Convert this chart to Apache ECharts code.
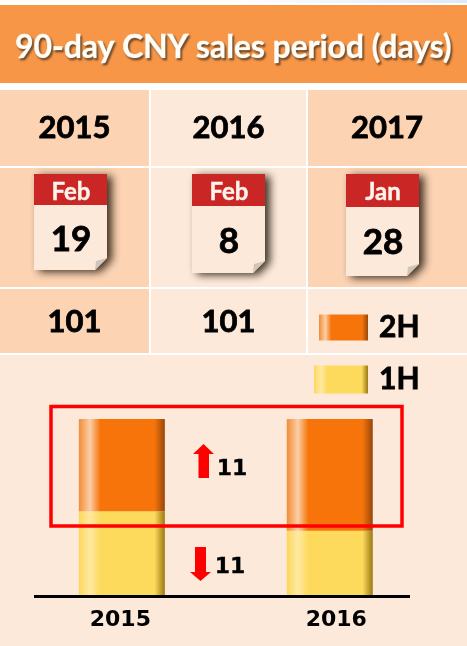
<!DOCTYPE html>
<html>
<head>
<meta charset="utf-8">
<style>
html,body{margin:0;padding:0;background:#fff}
#main{width:467px;height:646px}
</style>
<script src="https://cdn.jsdelivr.net/npm/echarts@6/dist/echarts.min.js"></script>
</head>
<body>
<div id="main"></div>
<script>
var titleText = '90-day CNY sales period (days)';
var years = ['2015', '2016', '2017'];
var months = ['Feb', 'Feb', 'Jan'];
var days = ['19', '8', '28'];
var totals = ['101', '101'];
var categories = ['2015', '2016'];
var firstHalf = [49, 38];
var secondHalf = [52, 63];
var changes = ['11', '11'];

var font = 'Lato';
var chartFont = '"DejaVu Sans"';
var darkCell = '#FCD3B3';
var lightCell = '#FDE9DA';
var colX = [0, 151, 308];
var colW = [149, 155, 159];
var colCenter = [74.5, 228.5, 387];

function barGrad(edge, light, main, dark) {
  return new echarts.graphic.LinearGradient(0, 0, 1, 0, [
    {offset: 0, color: edge},
    {offset: 0.13, color: light},
    {offset: 0.25, color: main},
    {offset: 0.88, color: main},
    {offset: 1, color: dark}
  ]);
}
var orange = barGrad('#F28C35', '#FBCFA6', '#F6740A', '#96480C');
var yellow = barGrad('#FCD75C', '#FFE9A3', '#FEDA5C', '#9A7A12');

function label(text, x, y, size, color, z, family, thick) {
  var c = color || '#000';
  return {
    type: 'text', z: z || 1, silent: true,
    style: {text: text, x: x, y: y, fill: c, stroke: c, lineWidth: thick === undefined ? 0.8 : thick,
      font: 'bold ' + size + 'px ' + (family || font), align: 'center', verticalAlign: 'middle'}
  };
}
function box(x, y, w, h, fill, z) {
  return {type: 'rect', z: z || 0, silent: true, shape: {x: x, y: y, width: w, height: h}, style: {fill: fill}};
}

var els = [];
// page + table bands
els.push(box(0, 0, 467, 646, lightCell));
els.push(box(0, 0, 467, 5, '#fff'));
els.push({type: 'rect', z: 0, silent: true, shape: {x: 230, y: 0, width: 237, height: 3},
  style: {fill: new echarts.graphic.LinearGradient(0, 0, 1, 0, [{offset: 0, color: '#fff'}, {offset: 1, color: '#DCE9F8'}])}});
els.push(box(0, 5, 467, 78, '#F89647'));
els.push(box(0, 83, 467, 7, '#fff'));
els.push(box(0, 166, 467, 2, '#fff'));
els.push(box(0, 287, 467, 2, '#fff'));
els.push(box(0, 353, 467, 2, '#fff'));
els.push(box(149, 83, 2, 270, '#fff'));
els.push(box(306, 83, 2, 270, '#fff'));
els.push(box(colX[0], 90, colW[0], 76, darkCell));
els.push(box(colX[2], 90, colW[2], 76, darkCell));
els.push(box(colX[0], 168, colW[0], 119, darkCell));
els.push(box(colX[2], 168, colW[2], 119, darkCell));
els.push(box(colX[0], 289, colW[0], 64, darkCell));

// year row and totals row
years.forEach(function (y, i) {
  els.push(label(y, colCenter[i], 128, 31));
});
totals.forEach(function (t, i) {
  els.push(label(t, colCenter[i], 322, 31));
});

// calendars
var calX = [34, 192, 346];
var calH = [96, 99, 102];
var calRed = [31, 32, 33];
var dayY = [240, 242, 243];
months.forEach(function (m, i) {
  var x = calX[i], y = 174, w = 73, h = calH[i], f = 12;
  els.push({
    type: 'polygon', z: 1, silent: true,
    shape: {points: [[x, y], [x + w, y], [x + w, y + h - f], [x + w - f, y + h], [x, y + h]]},
    style: {fill: lightCell, shadowBlur: 8, shadowOffsetX: 5, shadowOffsetY: 2, shadowColor: 'rgba(40,28,16,0.9)'}
  });
  els.push({
    type: 'polygon', z: 1, silent: true,
    shape: {points: [[x + w, y + h - f], [x + w - f, y + h], [x + w - f + 1, y + h - f + 3]]},
    style: {fill: '#CFC5B8'}
  });
  els.push(box(x, y, w, calRed[i], '#CA2626', 1));
  els.push(label(m, x + w / 2 + 0.5, 192, 24, '#FDF3EA', 2, font, 0.4));
  els.push(label(days[i], x + w / 2 + 0.5, dayY[i], 35, '#000', 2));
});

// red highlight box, arrows, change labels
els.push({type: 'rect', z: 10, silent: true, shape: {x: 51, y: 406.5, width: 351, height: 119.5},
  style: {fill: 'none', stroke: '#FF0000', lineWidth: 3.5}});
els.push({type: 'polygon', z: 10, silent: true,
  shape: {points: [[203.5, 444], [214, 454], [209, 454], [209, 478], [198.5, 478], [198.5, 454], [193, 454]]},
  style: {fill: '#FF0000'}});
els.push({type: 'polygon', z: 10, silent: true,
  shape: {points: [[200.5, 581], [211, 572], [206, 572], [206, 547], [195, 547], [195, 572], [190, 572]]},
  style: {fill: '#FF0000'}});
els.push(label(changes[0], 232, 469, 22, '#000', 10, chartFont, 0.3));
els.push(label(changes[1], 230, 567, 22, '#000', 10, chartFont, 0.3));
// baseline
els.push(box(34, 595, 376, 3, '#000', 10));

var legendText = {fontFamily: font, fontWeight: 'bold', fontSize: 30, color: '#000',
  textBorderColor: '#000', textBorderWidth: 0.8, padding: [0, 0, 0, 6]};

var myChart = echarts.init(document.getElementById('main'), null, {renderer: 'canvas'});
myChart.setOption({
  animation: false,
  backgroundColor: 'transparent',
  title: {
    text: titleText, left: 'center', top: 27, z: 5,
    textStyle: {
      fontFamily: font, fontWeight: 'bold', fontSize: 31.8, color: '#FFFDF6',
      textBorderColor: '#FFFDF6', textBorderWidth: 0.6,
      textShadowColor: 'rgba(70,50,30,0.75)', textShadowBlur: 2, textShadowOffsetX: 1.5, textShadowOffsetY: 1.5
    }
  },
  graphic: {elements: els},
  legend: [
    {data: [{name: '2H', icon: 'rect'}], left: 319, top: 312, padding: 0, itemWidth: 49, itemHeight: 26, selectedMode: false, textStyle: legendText},
    {data: [{name: '1H', icon: 'rect'}], left: 314, top: 364, padding: 0, itemWidth: 54, itemHeight: 28, selectedMode: false, textStyle: legendText}
  ],
  grid: {left: 17.9, width: 415.8, top: 419, height: 179},
  xAxis: {
    type: 'category', data: categories,
    axisLine: {show: false}, axisTick: {show: false},
    axisLabel: {
      margin: 11,
      formatter: function (v, i) { return (i === 0 ? '{a|' : '{b|') + v + '}'; },
      rich: {
        a: {fontFamily: chartFont, fontWeight: 'bold', fontSize: 22, color: '#000', padding: [0, 3, 0, 0]},
        b: {fontFamily: chartFont, fontWeight: 'bold', fontSize: 22, color: '#000', padding: [0, 0, 6, 13]}
      }
    }
  },
  yAxis: {type: 'value', min: 0, max: 101, show: false},
  series: [
    {name: '1H', type: 'bar', stack: 'days', barWidth: 86, data: firstHalf, itemStyle: {color: yellow}},
    {name: '2H', type: 'bar', stack: 'days', barWidth: 86, data: secondHalf, itemStyle: {color: orange}}
  ]
});
</script>
</body>
</html>
